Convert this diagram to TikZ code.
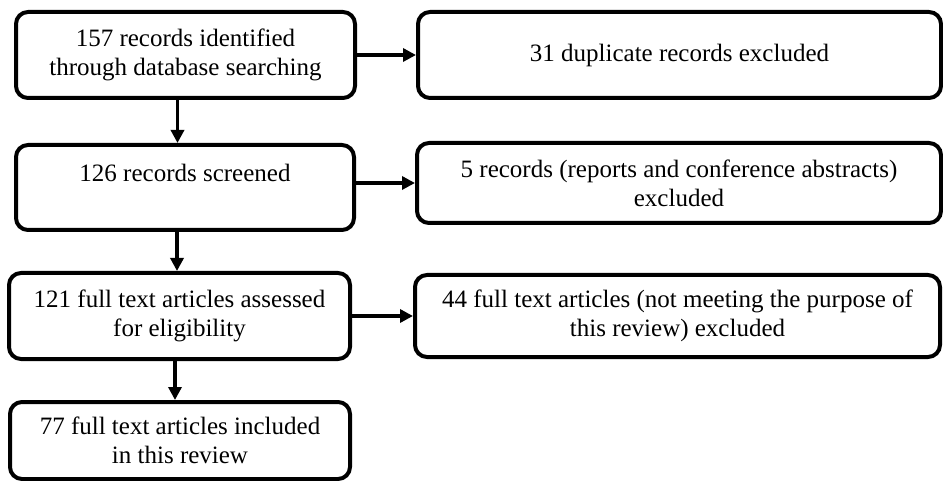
\documentclass[tikz,border=0pt]{standalone}
\usepackage{fontspec}
\setmainfont{Liberation Serif}
\usetikzlibrary{arrows.meta}

\begin{document}
\begin{tikzpicture}[x=1pt, y=-1pt,
  box/.style={draw=black, line width=4pt, rounded corners=12pt, inner sep=0pt,
    align=center, font=\fontsize{25}{29}\selectfont},
  flow/.style={draw=black, line width=3.5pt, -{Triangle[length=13pt, width=13pt]}}]

\useasboundingbox (0,0) rectangle (943,481);

% left column
\node[box, minimum width=339pt, minimum height=86pt] (ident) at (185.5,55) {157 records identified\\through database searching};

\node[box, minimum width=338pt, minimum height=85pt] (screen) at (185,187.5) {126 records screened\\\mbox{}};

\node[box, minimum width=341pt, minimum height=86pt] (assess) at (179.5,316) {121 full text articles assessed\\for eligibility};

\node[box, minimum width=340pt, minimum height=77pt] (incl) at (180,440.5) {77 full text articles included\\in this review};

% right column
\node[box, minimum width=523pt, minimum height=86pt] (dupl) at (679.5,55) {31 duplicate records excluded};

\node[box, minimum width=524pt, minimum height=80pt] (reports) at (679,183) {5 records (reports and conference abstracts)\\excluded};

\node[box, minimum width=525pt, minimum height=82pt] (purpose) at (677.5,316) {44 full text articles (not meeting the purpose of\\this review) excluded};

% arrows
\draw[flow] ([xshift=-8pt]ident.south) -- ([xshift=-8pt]ident.south |- screen.north);
\draw[flow] ([xshift=-8pt]screen.south) -- ([xshift=-8pt]screen.south |- assess.north);
\draw[flow] ([xshift=-4.5pt]assess.south) -- ([xshift=-4.5pt]assess.south |- incl.north);

\draw[flow] (ident) -- (dupl);
\draw[flow] (reports.west -| screen.east) -- (reports.west);
\draw[flow] (assess) -- (purpose);
\end{tikzpicture}
\end{document}
